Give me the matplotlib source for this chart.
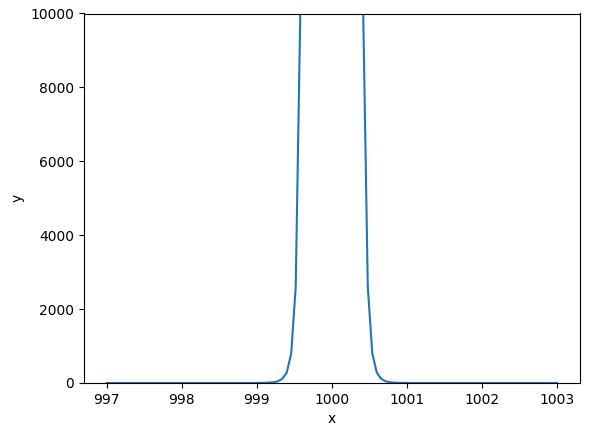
import numpy as np
import matplotlib
matplotlib.use("Agg")
import matplotlib.pyplot as plt

# sample grid (101 points, step 0.06)
x = np.linspace(997, 1003, 101)

# left half of the peak, from x=997 up to x=999.94 (50 points)
y_left = [0] * 34 + [
    3, 5, 10, 20, 45, 110, 280, 800, 2600, 9900,
    46000, 286000, 2.7e6, 4.9e7, 2.7e9, 2.8e12,
]
y_peak = [1e15]
y = y_left + y_peak + y_left[::-1]

fig = plt.figure(figsize=(5.9, 4.37), dpi=100)
ax = fig.add_axes([84 / 590, 54 / 437, 495.5 / 590, 369.5 / 437])
ax.plot(x, y)
ax.set_ylim(0, 10000)
ax.set_xlabel('x')
ax.set_ylabel('y')
fig.savefig("out.png", dpi=100)
